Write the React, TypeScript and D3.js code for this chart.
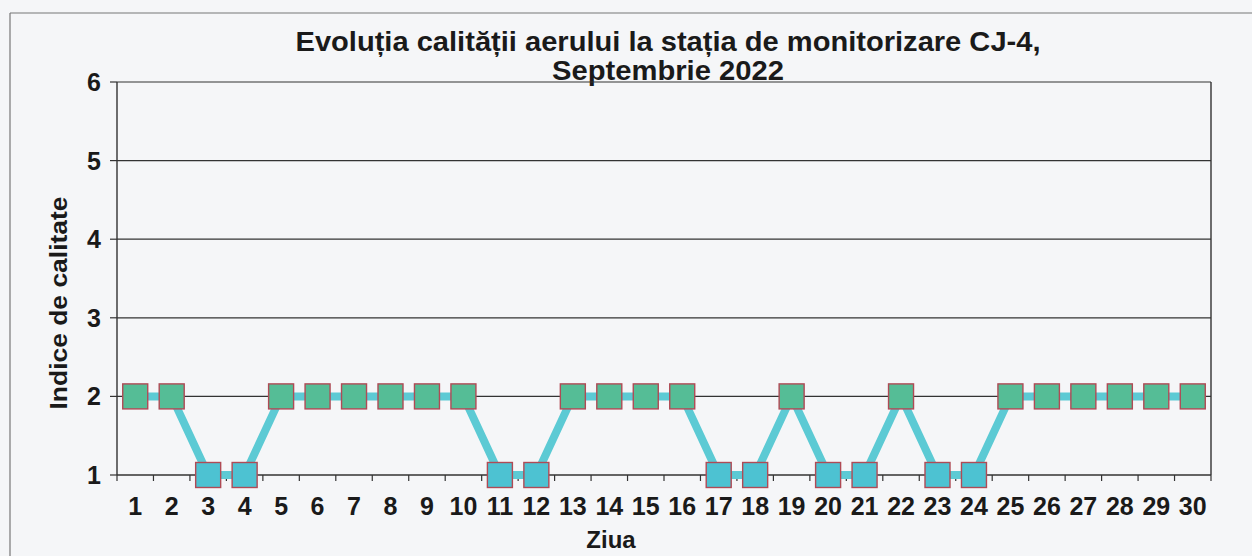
import React from "react";
import * as d3 from "d3";

const days: string[] = Array.from({ length: 30 }, (_, i) => String(i + 1));
const indexValues: number[] = [2, 2, 1, 1, 2, 2, 2, 2, 2, 2, 1, 1, 2, 2, 2, 2, 1, 1, 2, 1, 1, 2, 1, 1, 2, 2, 2, 2, 2, 2];
const yTicks: number[] = [1, 2, 3, 4, 5, 6];
const markerColors: Record<number, string> = { 1: "#4dc2d2", 2: "#55bd96" };
const titleLines: string[] = ["Evoluția calității aerului la stația de monitorizare CJ-4,", "Septembrie 2022"];
const titleWidths: number[] = [745, 232];

export default function App() {
  const W = 1252, H = 556;
  const left = 117, right = 1211, top = 82, bottom = 475;
  const x = d3.scaleBand<string>().domain(days).range([left, right]).padding(0);
  const y = d3.scaleLinear().domain([1, 6]).range([bottom, top]);
  const cx = (d: string) => (x(d) as number) + x.bandwidth() / 2;
  const line = d3.line<number>().x((_, i) => cx(days[i])).y((v) => y(v));
  const font = "Arial, 'Liberation Sans', sans-serif";
  const ms = 25;
  return (
    <svg width={W} height={H} style={{ position: "absolute", left: 0, top: 0, background: "#f5f6f8" }}>
      <rect x={0} y={0} width={W} height={H} fill="#f5f6f8" />
      <line x1={10} y1={13} x2={W} y2={13} stroke="#777" strokeWidth={1.2} />
      <line x1={10} y1={13} x2={10} y2={H} stroke="#777" strokeWidth={1.2} />
      {titleLines.map((t, i) => (
        <text key={i} x={668} y={51 + i * 29} textAnchor="middle" fontFamily={font} fontWeight="bold" fontSize={27}
          textLength={titleWidths[i]} lengthAdjust="spacingAndGlyphs" fill="#1a1a1a">{t}</text>
      ))}
      {yTicks.map((t) => (
        <g key={t}>
          {t > 1 && <line x1={left} x2={right} y1={y(t)} y2={y(t)} stroke="#333" strokeWidth={1.2} />}
          <line x1={left - 7} x2={left} y1={y(t)} y2={y(t)} stroke="#333" strokeWidth={1.2} />
          <text x={101} y={y(t) + 9} textAnchor="end" fontFamily={font} fontWeight="bold" fontSize={25} fill="#1a1a1a">{t}</text>
        </g>
      ))}
      <line x1={left} x2={left} y1={top} y2={bottom} stroke="#333" strokeWidth={1.4} />
      <line x1={right} x2={right} y1={top} y2={bottom} stroke="#333" strokeWidth={1.4} />
      <line x1={left} x2={right} y1={bottom} y2={bottom} stroke="#333" strokeWidth={1.6} />
      {days.map((d) => (
        <line key={"t" + d} x1={x(d) as number} x2={x(d) as number} y1={bottom} y2={bottom + 6} stroke="#333" strokeWidth={1.2} />
      ))}
      <line x1={right} x2={right} y1={bottom} y2={bottom + 6} stroke="#333" strokeWidth={1.2} />
      <path d={line(indexValues) || ""} fill="none" stroke="#5ccad4" strokeWidth={8} strokeLinejoin="miter" />
      {indexValues.map((v, i) => (
        <rect key={"m" + i} x={cx(days[i]) - ms / 2} y={y(v) - ms / 2} width={ms} height={ms} fill={markerColors[v]} stroke="#b04a55" strokeWidth={1.4} />
      ))}
      {days.map((d) => (
        <text key={"l" + d} x={cx(d)} y={515} textAnchor="middle" fontFamily={font} fontWeight="bold" fontSize={25} fill="#1a1a1a">{d}</text>
      ))}
      <text x={611} y={548} textAnchor="middle" fontFamily={font} fontWeight="bold" fontSize={24} fill="#1a1a1a">Ziua</text>
      <text transform={`translate(67,${303}) rotate(-90)`} textAnchor="middle" fontFamily={font} fontWeight="bold" fontSize={24}
        textLength={213} lengthAdjust="spacingAndGlyphs" fill="#1a1a1a">Indice de calitate</text>
    </svg>
  );
}
